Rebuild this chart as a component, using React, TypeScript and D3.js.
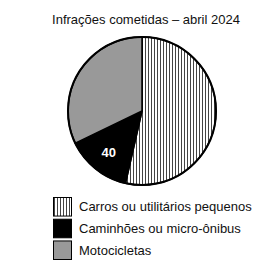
import React from 'react';
import * as d3 from 'd3';

const categories = ['Carros ou utilitários pequenos', 'Caminhões ou micro-ônibus', 'Motocicletas'];
const values = [150, 40, 90];
const sliceLabels = ['', '40', ''];
const title = 'Infrações cometidas – abril 2024';

const fills = ['url(#stripes)', '#000', '#999'];

const App: React.FC = () => {
  const width = 274;
  const height = 273;
  const cx = 142;
  const cy = 111;
  const r = 74;

  const pie = d3.pie<number>().sort(null).value((d) => d);
  const arcs = pie(values);
  const arc = d3.arc<d3.PieArcDatum<number>>().innerRadius(0).outerRadius(r);
  const labelArc = d3.arc<d3.PieArcDatum<number>>().innerRadius(r * 0.72).outerRadius(r * 0.72);

  const legendY = d3.scaleBand<string>().domain(categories).range([197, 260]).paddingInner(0.1);

  return (
    <svg
      width={width}
      height={height}
      style={{ position: 'absolute', left: 0, top: 0, background: '#fff' }}
      fontFamily="'Liberation Sans', Arial, sans-serif"
    >
      <defs>
        <pattern id="stripes" patternUnits="userSpaceOnUse" width={3} height={3}>
          <rect width={3} height={3} fill="#fff" />
          <rect x={0} width={1} height={3} fill="#444" />
        </pattern>
      </defs>
      <rect width={width} height={height} fill="#fff" />
      <text x={146} y={24} textAnchor="middle" fontSize={13} fill="#111">
        {title}
      </text>
      <g transform={`translate(${cx},${cy})`}>
        {arcs.map((a, i) => (
          <path key={i} d={arc(a) || ''} fill={fills[i]} stroke="#000" strokeWidth={1.5} />
        ))}
        <circle r={r} fill="none" stroke="#000" strokeWidth={2} />
        {arcs.map((a, i) => {
          if (!sliceLabels[i]) return null;
          const [lx, ly] = labelArc.centroid(a);
          return (
            <text key={i} x={lx} y={ly} dy="0.35em" textAnchor="middle" fontSize={13} fontWeight="bold" fill="#fff">
              {sliceLabels[i]}
            </text>
          );
        })}
      </g>
      {categories.map((c, i) => {
        const y = legendY(c) || 0;
        const h = legendY.bandwidth();
        return (
          <g key={c}>
            <rect x={53.5} y={y + 0.5} width={18} height={h - 1} fill={fills[i]} stroke="#000" strokeWidth={1} />
            <text x={79} y={y + h / 2} dy="0.35em" fontSize={13} fill="#111">
              {c}
            </text>
          </g>
        );
      })}
    </svg>
  );
};

export default App;
